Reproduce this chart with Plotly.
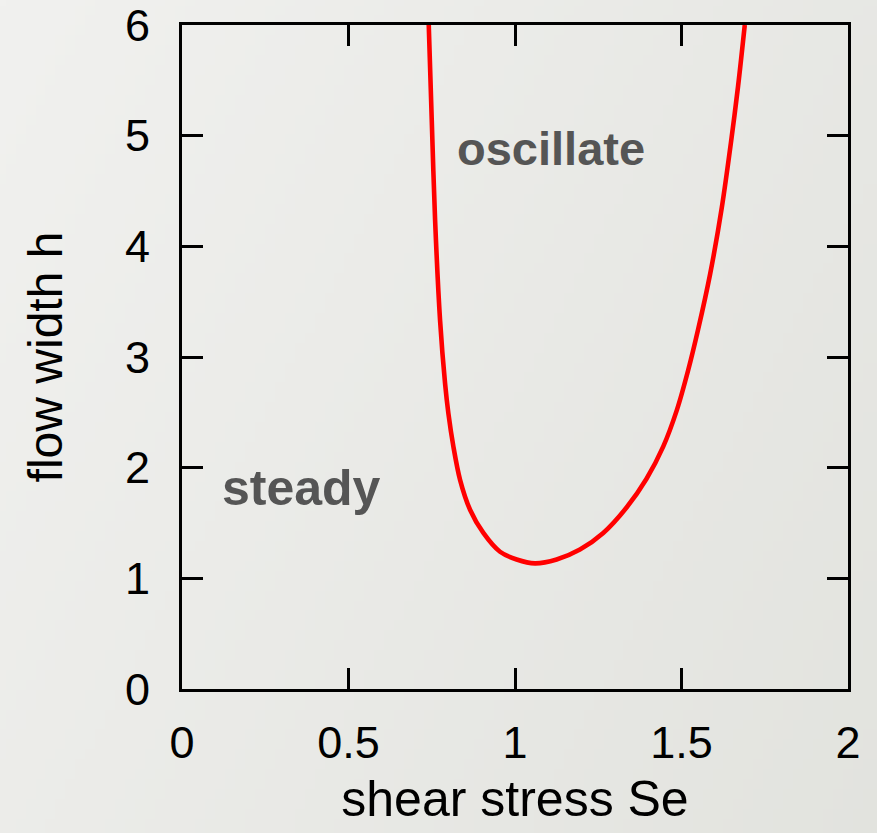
import base64
import struct
import zlib

import numpy as np
import plotly.graph_objects as go

# Stability boundary curve (shear stress Se vs flow width h)
se_vals = [0.741, 0.750, 0.760, 0.775, 0.790, 0.800, 0.815, 0.835, 0.865, 0.905,
           0.955, 1.005, 1.060, 1.125, 1.195, 1.265, 1.335, 1.395, 1.445, 1.486,
           1.520, 1.550, 1.586, 1.621, 1.649, 1.670, 1.690]
h_vals = [6.00, 5.14, 4.24, 3.33, 2.76, 2.49, 2.19, 1.89, 1.62, 1.41,
          1.24, 1.17, 1.135, 1.17, 1.26, 1.41, 1.64, 1.90, 2.19, 2.52,
          2.88, 3.25, 3.75, 4.35, 4.95, 5.45, 6.00]

x_ticks = [0, 0.5, 1, 1.5, 2]
x_tick_labels = ["0", "0.5", "1", "1.5", "2"]
y_ticks = [0, 1, 2, 3, 4, 5, 6]
y_tick_labels = ["0", "1", "2", "3", "4", "5", "6"]

region_labels = ["oscillate", "steady"]
region_x = [1.108, 0.36]
region_y = [4.88, 1.82]

FAM = "Liberation Sans, Arial, Helvetica, sans-serif"
W, H = 877, 833
ML, MR, MT, MB = 182, 29, 25, 144


def gradient_png(w=88, h=84):
    xs = np.linspace(0, 1, w)[None, :]
    ys = np.linspace(0, 1, h)[:, None]
    t = 0.6 * xs + 0.3 * ys
    r = 241 - 16 * t
    g = 241 - 15 * t
    b = 239 - 18 * t
    img = np.stack([r, g, b], axis=-1).clip(0, 255).astype(np.uint8)
    raw = b"".join(b"\x00" + img[i].tobytes() for i in range(h))

    def chunk(tag, data):
        c = struct.pack(">I", len(data)) + tag + data
        return c + struct.pack(">I", zlib.crc32(tag + data) & 0xffffffff)

    png = b"\x89PNG\r\n\x1a\n"
    png += chunk(b"IHDR", struct.pack(">IIBBBBB", w, h, 8, 2, 0, 0, 0))
    png += chunk(b"IDAT", zlib.compress(raw, 9))
    png += chunk(b"IEND", b"")
    return "data:image/png;base64," + base64.b64encode(png).decode()


fig = go.Figure()
fig.add_trace(go.Scatter(
    x=se_vals, y=h_vals, mode="lines",
    line=dict(color="#ff0000", width=4.6, shape="spline", smoothing=0.9),
    showlegend=False, hoverinfo="skip"))

label_sizes = {"oscillate": 47, "steady": 50}
for t, xv, yv in zip(region_labels, region_x, region_y):
    fig.add_annotation(x=xv, y=yv, text="<b>%s</b>" % t, showarrow=False,
                       font=dict(family=FAM, size=label_sizes[t], color="#555555"))

tick_font = dict(family=FAM, size=45, color="#000000")
title_font = dict(family=FAM, size=50, color="#000000")
axis_common = dict(showgrid=False, zeroline=False, showline=True, linecolor="#000000",
                   linewidth=3, mirror="ticks", ticks="inside", ticklen=21,
                   tickwidth=3, tickcolor="#000000", tickfont=tick_font,
                   automargin=False, ticklabeloverflow="allow")

fig.update_xaxes(range=[0, 2], tickvals=x_ticks, ticktext=x_tick_labels,
                 ticklabelstandoff=12,
                 title=dict(text="shear stress Se", font=title_font, standoff=14),
                 **axis_common)
fig.update_yaxes(range=[0, 6], tickvals=y_ticks, ticktext=y_tick_labels,
                 ticklabelstandoff=20,
                 title=dict(text="flow width h", font=dict(family=FAM, size=48, color="#000000"),
                            standoff=48),
                 **axis_common)

pw, ph = W - ML - MR, H - MT - MB
fig.add_layout_image(dict(
    source=gradient_png(), xref="paper", yref="paper",
    x=-ML / pw, y=1 + MT / ph, sizex=W / pw, sizey=H / ph,
    xanchor="left", yanchor="top", sizing="stretch", layer="below"))

fig.update_layout(
    width=W, height=H,
    margin=dict(l=ML, r=MR, t=MT, b=MB),
    paper_bgcolor="#ebebe8", plot_bgcolor="rgba(0,0,0,0)",
    font=tick_font,
)

fig.write_html("out.html")
